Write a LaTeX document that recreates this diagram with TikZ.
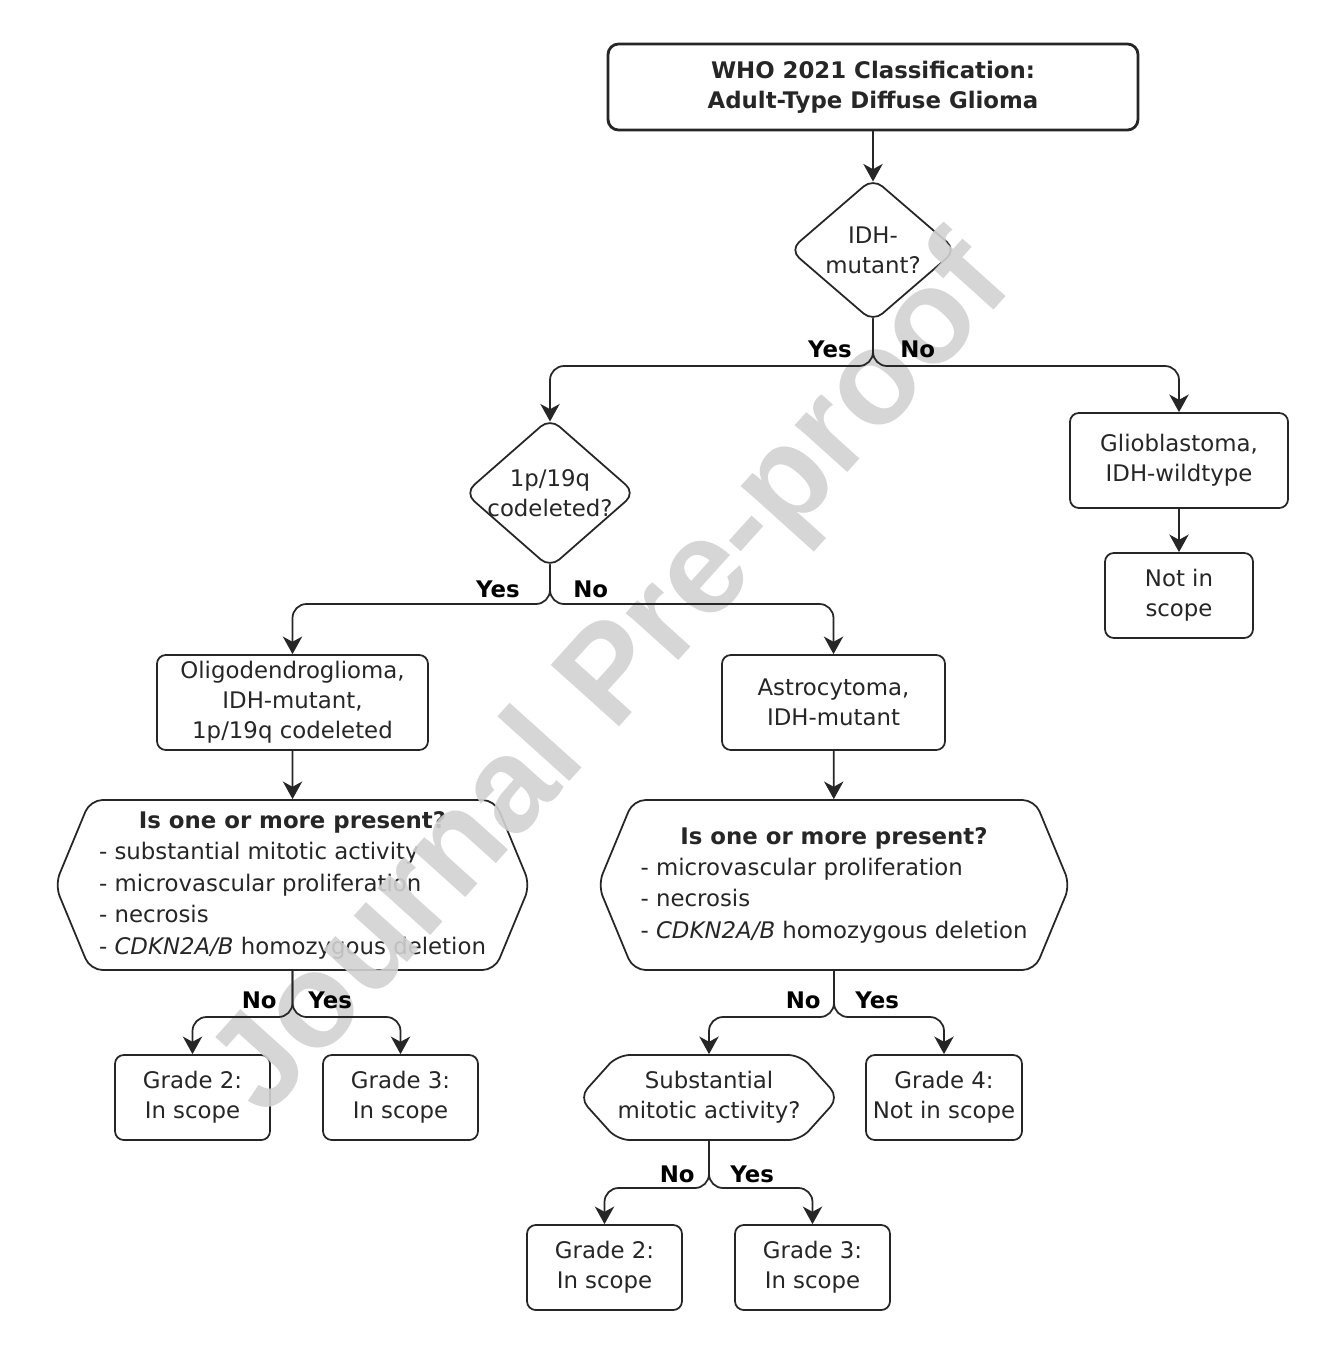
\documentclass[tikz,border=0pt]{standalone}
\usepackage{fontspec}
\setmainfont{DejaVu Sans}
\newfontfamily\wmfont{Liberation Sans}
\usetikzlibrary{shapes.geometric,shapes.symbols,arrows.meta}

\begin{document}
\begin{tikzpicture}[
    font=\fontsize{13}{17}\selectfont,
    box/.style={rectangle, draw=black!85, line width=1pt, rounded corners=5pt, align=center, minimum height=1.7cm, text=black!85},
    dec/.style={diamond, draw=black!85, line width=1pt, rounded corners=7pt, align=center, inner sep=-2pt, text=black!85},
    crit/.style={signal, signal to=west and east, signal pointer angle=135, draw=black!85, line width=1pt, rounded corners=7pt, inner sep=0pt, align=center, text=black!85},
    lbl/.style={font=\fontsize{13}{17}\selectfont\bfseries, inner sep=0pt},
    arr/.style={-{Stealth[length=10pt,width=11pt,inset=3pt]}, line width=1pt, draw=black!85, rounded corners=8pt},
    wm/.style={font=\wmfont\bfseries\fontsize{76}{80}\selectfont, text=black!18, opacity=0.9, rotate=48}
]
\useasboundingbox (0,0) rectangle (26.72,-27.28);

% title and first question
\node[box, line width=1.6pt, rounded corners=6pt, minimum width=10.6cm, minimum height=1.72cm, font=\fontsize{13}{17}\selectfont\bfseries] (title) at (17.46,-1.74) {WHO 2021 Classification:\\Adult-Type Diffuse Glioma};
\node[dec, aspect=1.16, minimum width=3.34cm, minimum height=2.88cm] (idh) at (17.46,-5.00) {IDH-\\mutant?};

% second level
\node[dec, aspect=1.14, minimum width=3.42cm, minimum height=3.0cm] (codel) at (11.0,-9.86) {1p/19q\\codeleted?};
\node[box, minimum width=4.36cm, minimum height=1.9cm] (glio) at (23.58,-9.21) {Glioblastoma,\\IDH-wildtype};
\node[box, minimum width=2.96cm] (nis) at (23.58,-11.91) {Not in\\scope};

% tumour types
\node[box, minimum width=5.42cm, minimum height=1.9cm] (oligo) at (5.85,-14.05) {Oligodendroglioma,\\IDH-mutant,\\1p/19q codeleted};
\node[box, minimum width=4.46cm, minimum height=1.9cm] (astro) at (16.67,-14.05) {Astrocytoma,\\IDH-mutant};

% criteria
\node[crit, minimum width=9.5cm, minimum height=3.4cm] (crit1) at (5.85,-17.70) {\renewcommand{\arraystretch}{1.05}\begin{tabular}{@{}l@{}}
    \multicolumn{1}{@{}c@{}}{\textbf{Is one or more present?}}\\
    - substantial mitotic activity\\
    - microvascular proliferation\\
    - necrosis\\
    - \textit{CDKN2A/B} homozygous deletion\end{tabular}};
\node[crit, minimum width=9.44cm, minimum height=3.4cm] (crit2) at (16.68,-17.70) {\renewcommand{\arraystretch}{1.05}\begin{tabular}{@{}l@{}}
    \multicolumn{1}{@{}c@{}}{\textbf{Is one or more present?}}\\
    - microvascular proliferation\\
    - necrosis\\
    - \textit{CDKN2A/B} homozygous deletion\end{tabular}};

% grades
\node[box, minimum width=3.1cm] (g2a) at (3.85,-21.95) {Grade 2:\\In scope};
\node[box, minimum width=3.1cm] (g3a) at (8.01,-21.95) {Grade 3:\\In scope};
\node[crit, signal pointer angle=96, minimum width=5.04cm, minimum height=1.7cm] (subm) at (14.18,-21.95) {Substantial\\mitotic activity?};
\node[box, minimum width=3.12cm] (g4) at (18.88,-21.95) {Grade 4:\\Not in scope};
\node[box, minimum width=3.1cm] (g2b) at (12.09,-25.35) {Grade 2:\\In scope};
\node[box, minimum width=3.1cm] (g3b) at (16.25,-25.35) {Grade 3:\\In scope};

% split points
\coordinate (s1) at (17.46,-7.32);
\coordinate (s2) at (11.0,-12.08);
\coordinate (s3) at (5.85,-20.34);
\coordinate (s4) at (16.68,-20.34);
\coordinate (s5) at (14.18,-23.76);

% watermark
\node[wm] (wmark) at (12.3,-13.6) {Journal Pre-proof};

% connectors
\draw[arr, shorten >=-2.5pt] (title) -- (idh);
\draw[arr, shorten >=-2.5pt] ([yshift=2.5pt]idh.south) |- (s1 -| codel.north) -- (codel.north);
\draw[arr] ([yshift=2.5pt]idh.south) |- (s1 -| glio.north) -- (glio.north);
\draw[arr] (glio) -- (nis);
\draw[arr] ([yshift=2.5pt]codel.south) |- (s2 -| oligo.north) -- (oligo.north);
\draw[arr] ([yshift=2.5pt]codel.south) |- (s2 -| astro.north) -- (astro.north);
\draw[arr] (oligo) -- (crit1);
\draw[arr] (astro) -- (crit2);
\draw[arr] (crit1.south) |- (s3 -| g2a.north) -- (g2a.north);
\draw[arr] (crit1.south) |- (s3 -| g3a.north) -- (g3a.north);
\draw[arr] (crit2.south) |- (s4 -| subm.north) -- (subm.north);
\draw[arr] (crit2.south) |- (s4 -| g4.north) -- (g4.north);
\draw[arr] (subm.south) |- (s5 -| g2b.north) -- (g2b.north);
\draw[arr] (subm.south) |- (s5 -| g3b.north) -- (g3b.north);

% branch labels
\node[lbl, anchor=base east] (y1) at (17.04,-7.14) {Yes};
\node[lbl, anchor=base west] (n1) at (18.0,-7.14) {No};
\node[lbl, anchor=base east] (y2) at (10.4,-11.94) {Yes};
\node[lbl, anchor=base west] (n2) at (11.46,-11.94) {No};
\node[lbl, anchor=base east] (n3) at (5.54,-20.16) {No};
\node[lbl, anchor=base west] (y3) at (6.16,-20.16) {Yes};
\node[lbl, anchor=base east] (n4) at (16.42,-20.16) {No};
\node[lbl, anchor=base west] (y4) at (17.10,-20.16) {Yes};
\node[lbl, anchor=base east] (n5) at (13.9,-23.64) {No};
\node[lbl, anchor=base west] (y5) at (14.6,-23.64) {Yes};
\end{tikzpicture}
\end{document}
